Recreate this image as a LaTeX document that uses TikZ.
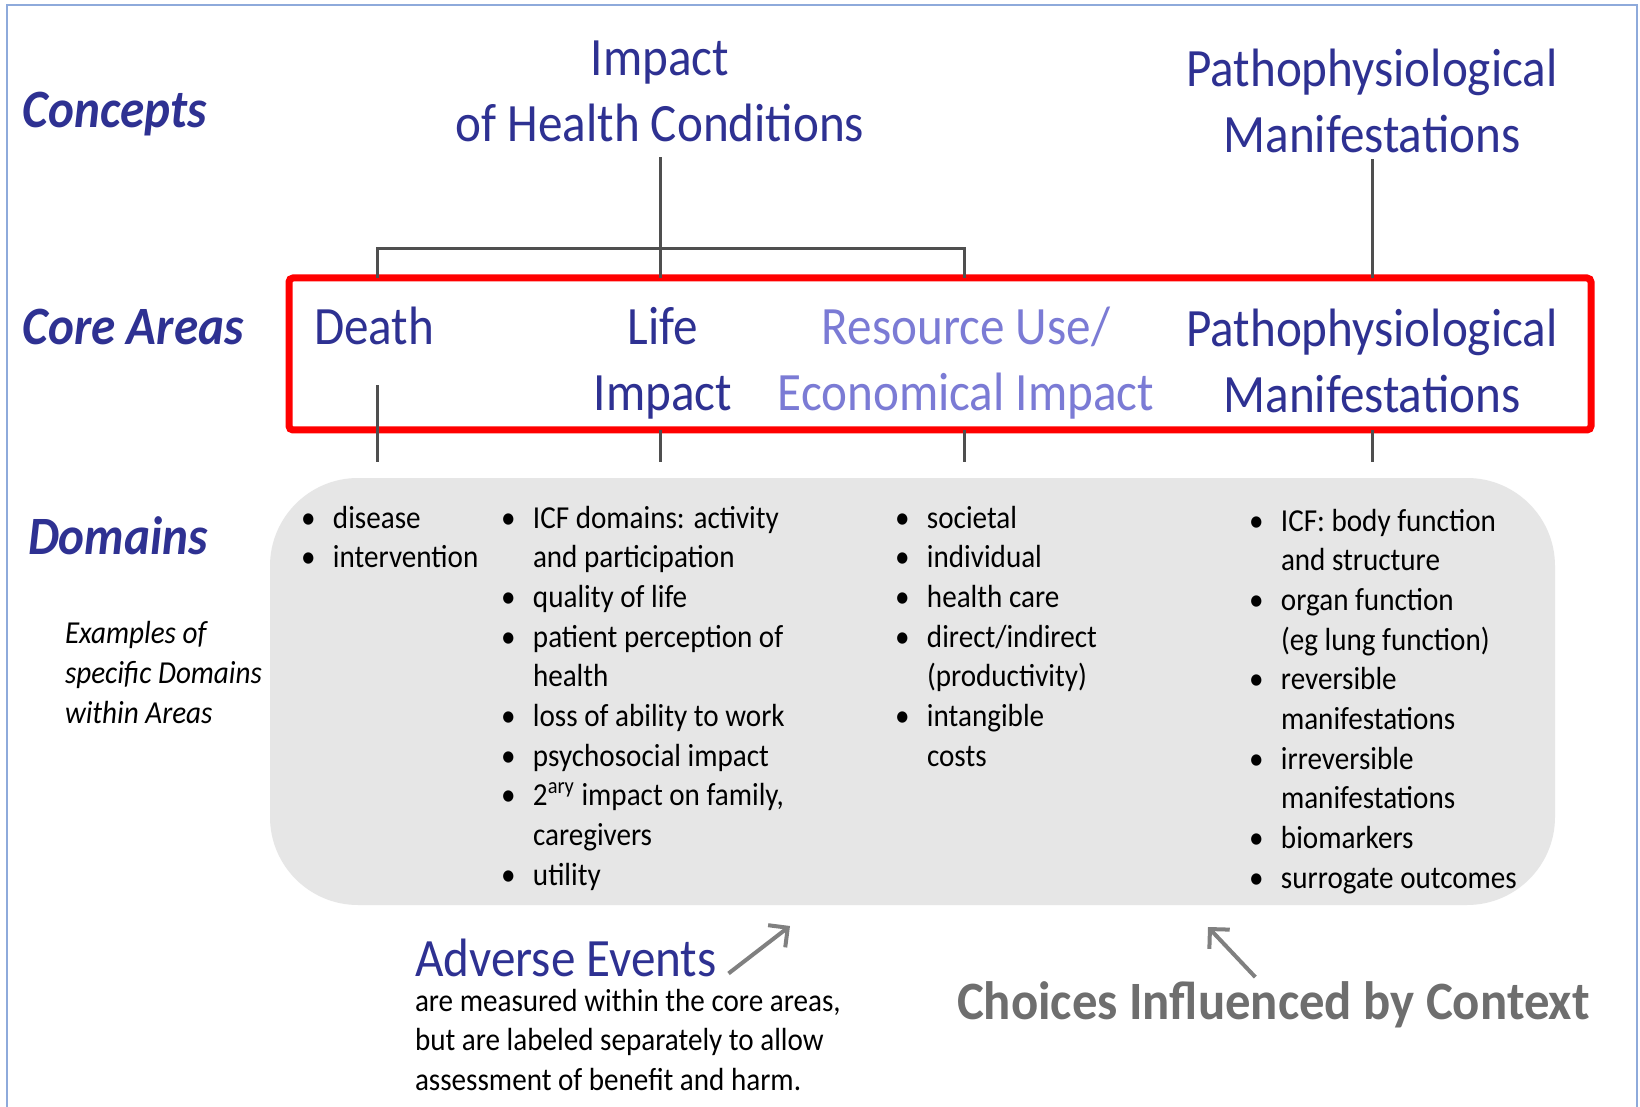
\documentclass[tikz,border=0pt]{standalone}
\usepackage{fontspec}
\setmainfont{Carlito}[FakeStretch=0.91]
\newfontfamily\choicefont{Carlito}[FakeStretch=0.94]
\usetikzlibrary{arrows.meta,calc}

\definecolor{headblue}{HTML}{2E3192}
\definecolor{softblue}{HTML}{7B7BD5}
\definecolor{linegray}{HTML}{4F4F4F}
\definecolor{boxgray}{HTML}{E6E6E6}
\definecolor{arrowgray}{HTML}{808080}
\definecolor{choicegray}{HTML}{6E6E6E}
\definecolor{frameblue}{HTML}{8EAADB}
\definecolor{corered}{HTML}{FF0000}

% bullet marker and hanging indent for the domain lists
\newcommand\bulitem{\makebox[16pt][l]{•}}
\newcommand\contline{\hspace*{16pt}}

\begin{document}
\begin{tikzpicture}[x=0.5pt, y=-0.5pt,
  txt/.style={inner sep=0pt, outer sep=0pt},
  head/.style={txt, text=headblue, align=center, font=\fontsize{27}{33}\selectfont},
  side/.style={txt, text=headblue, font=\fontsize{27}{33}\selectfont\bfseries\itshape},
  lst/.style={txt, align=left, font=\fontsize{16}{19.85}\selectfont},
  conn/.style={draw=linegray, line width=1.5pt},
  arr/.style={draw=arrowgray, line width=2pt, -{Straight Barb[length=7pt,width=14pt]}}]

\useasboundingbox[fill=white] (0,0) rectangle (1640,1107);
% outer frame
\draw[frameblue, line width=0.75pt] (7,1107) -- (7,5) -- (1637,5) -- (1637,1107);

% row labels
\node[side, anchor=base west] (concepts) at (23,128) {Concepts};
\node[side, anchor=base west] (coreareas) at (23,345) {Core Areas};
\node[side, anchor=base west] (domains) at (28,554) {Domains};

% concepts (multi-line nodes are anchored on their last baseline)
\node[head, anchor=base] (impact) at (660,142) {Impact\\of Health Conditions};
\node[head, anchor=base] (pathoC) at (1372,153) {Pathophysiological\\Manifestations};

% core areas frame
\node[draw=corered, line width=3.5pt, rounded corners=2pt, inner sep=0pt, outer sep=0pt,
      minimum width=651pt, minimum height=76pt] (core) at (940,354) {};

\node[head, anchor=base west] (death) at (314,345) {Death};
\node[head, anchor=base] (life) at (663,411) {Life\\Impact};
\node[head, anchor=base, text=softblue] (resource) at (966,411) {Resource Use/\\Economical Impact};
\node[head, anchor=base] (pathoA) at (1372,413) {Pathophysiological\\Manifestations};

% tree connectors
\coordinate (barL) at (377,249);
\coordinate (barR) at (964,249);
\coordinate (gapline) at (0,462);
\draw[conn] ($(impact.south)+(0,15)$) -- (impact.south |- core.north);
\draw[conn] (barL |- core.north) -- (barL) -- (barR) -- (barR |- core.north);
\draw[conn] ($(pathoC.south)+(0,6)$) -- (pathoC.south |- core.north);
\draw[conn] ($(barL |- death.south)+(0,40)$) -- (barL |- gapline);
\draw[conn] (impact.south |- core.south) -- (impact.south |- gapline);
\draw[conn] (barR |- core.south) -- (barR |- gapline);
\draw[conn] (pathoA.south |- core.south) -- (pathoA.south |- gapline);

% domains panel
\node[fill=boxgray, rounded corners=44pt, inner sep=0pt, outer sep=0pt,
      minimum width=642.5pt, minimum height=213.5pt] (dombox) at (912.5,691.5) {};

\node[txt, anchor=base west, align=left, font=\fontsize{16}{20}\selectfont\itshape]
  (examples) at (65,723) {Examples of\\specific Domains\\within Areas};

\node[lst, anchor=base west] (col1) at (301,567.7)
  {\bulitem disease\\\bulitem intervention};
\node[lst, anchor=base west] (col2) at (501,885.3)
  {\bulitem ICF domains: activity\\\contline and participation\\\bulitem quality of life\\
   \bulitem patient perception of\\\contline health\\\bulitem loss of ability to work\\
   \bulitem psychosocial impact\\\bulitem 2\textsuperscript{ary} impact on family,\\
   \contline caregivers\\\bulitem utility};
\node[lst, anchor=base west] (col3) at (895,766.2)
  {\bulitem societal\\\bulitem individual\\\bulitem health care\\\bulitem direct/indirect\\
   \contline (productivity)\\\bulitem intangible\\\contline costs};
\node[lst, anchor=base west] (col4) at (1249,888.3)
  {\bulitem ICF: body function\\\contline and structure\\\bulitem organ function\\
   \contline (eg lung function)\\\bulitem reversible\\\contline manifestations\\
   \bulitem irreversible\\\contline manifestations\\\bulitem biomarkers\\
   \bulitem surrogate outcomes};

% adverse events note
\node[head, anchor=base west] (adverse) at (415,976) {Adverse Events};
\node[lst, anchor=base west] (adnote) at (415,1090.4)
  {are measured within the core areas,\\but are labeled separately to allow\\assessment of benefit and harm.};

% context label
\node[txt, anchor=base west, text=choicegray,
      font=\choicefont\fontsize{27}{32}\selectfont\bfseries] (choices) at (957,1019)
  {Choices Influenced by Context};

\coordinate (advtip) at (790,926);
\coordinate (choicetip) at (1208,927);
\draw[arr] ([xshift=6pt,yshift=-8pt]adverse.east) -- (advtip);
\draw[arr] ([xshift=-9pt,yshift=2pt]choices.north) -- (choicetip);
\end{tikzpicture}
\end{document}
